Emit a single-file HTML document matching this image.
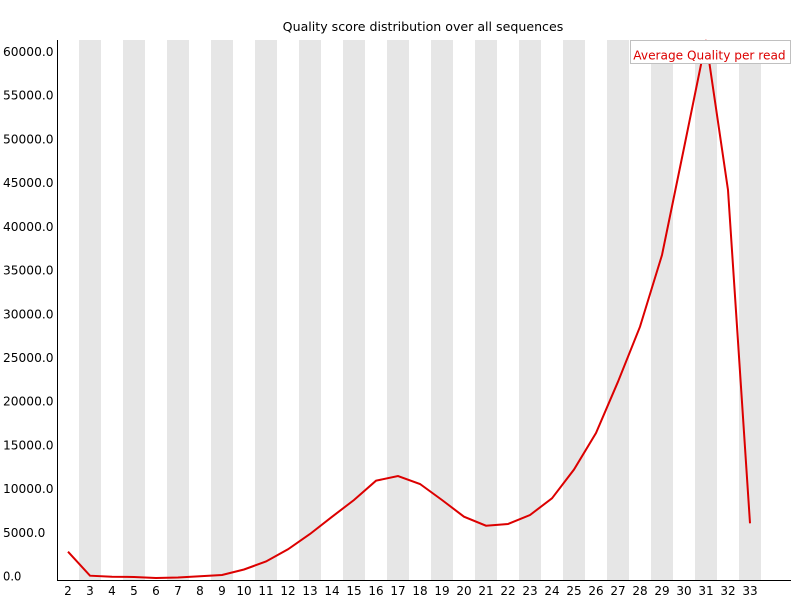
<!DOCTYPE html>
<html>
<head>
<meta charset="utf-8">
<style>
html,body{margin:0;padding:0;background:#fff;}
svg{display:block;}
text{font-family:"DejaVu Sans","Liberation Sans",sans-serif;font-size:12px;}
</style>
</head>
<body>
<svg width="800" height="600" viewBox="0 0 800 600" xmlns="http://www.w3.org/2000/svg">
<rect x="0" y="0" width="800" height="600" fill="#fff"/>
<!-- bands -->
<g fill="#e6e6e6">
<rect x="79" y="40" width="22" height="540"/>
<rect x="123" y="40" width="22" height="540"/>
<rect x="167" y="40" width="22" height="540"/>
<rect x="211" y="40" width="22" height="540"/>
<rect x="255" y="40" width="22" height="540"/>
<rect x="299" y="40" width="22" height="540"/>
<rect x="343" y="40" width="22" height="540"/>
<rect x="387" y="40" width="22" height="540"/>
<rect x="431" y="40" width="22" height="540"/>
<rect x="475" y="40" width="22" height="540"/>
<rect x="519" y="40" width="22" height="540"/>
<rect x="563" y="40" width="22" height="540"/>
<rect x="607" y="40" width="22" height="540"/>
<rect x="651" y="40" width="22" height="540"/>
<rect x="695" y="40" width="22" height="540"/>
<rect x="739" y="40" width="22" height="540"/>
</g>
<!-- title -->
<text x="282.7" y="31" textLength="280.6" lengthAdjust="spacingAndGlyphs" fill="#000">Quality score distribution over all sequences</text>
<!-- y labels -->
<g fill="#000">
<text x="3" y="56.0" textLength="50.5" lengthAdjust="spacingAndGlyphs">60000.0</text>
<text x="3" y="99.7" textLength="50.5" lengthAdjust="spacingAndGlyphs">55000.0</text>
<text x="3" y="143.4" textLength="50.5" lengthAdjust="spacingAndGlyphs">50000.0</text>
<text x="3" y="187.2" textLength="50.5" lengthAdjust="spacingAndGlyphs">45000.0</text>
<text x="3" y="230.9" textLength="50.5" lengthAdjust="spacingAndGlyphs">40000.0</text>
<text x="3" y="274.6" textLength="50.5" lengthAdjust="spacingAndGlyphs">35000.0</text>
<text x="3" y="318.3" textLength="50.5" lengthAdjust="spacingAndGlyphs">30000.0</text>
<text x="3" y="362.0" textLength="50.5" lengthAdjust="spacingAndGlyphs">25000.0</text>
<text x="3" y="405.7" textLength="50.5" lengthAdjust="spacingAndGlyphs">20000.0</text>
<text x="3" y="449.4" textLength="50.5" lengthAdjust="spacingAndGlyphs">15000.0</text>
<text x="3" y="493.2" textLength="50.5" lengthAdjust="spacingAndGlyphs">10000.0</text>
<text x="3" y="536.9" textLength="42.3" lengthAdjust="spacingAndGlyphs">5000.0</text>
<text x="3" y="580.6" textLength="18.3" lengthAdjust="spacingAndGlyphs">0.0</text>
</g>
<!-- x labels -->
<g fill="#000" text-anchor="middle">
<text x="68" y="595">2</text>
<text x="90" y="595">3</text>
<text x="112" y="595">4</text>
<text x="134" y="595">5</text>
<text x="156" y="595">6</text>
<text x="178" y="595">7</text>
<text x="200" y="595">8</text>
<text x="222" y="595">9</text>
<text x="244" y="595">10</text>
<text x="266" y="595">11</text>
<text x="288" y="595">12</text>
<text x="310" y="595">13</text>
<text x="332" y="595">14</text>
<text x="354" y="595">15</text>
<text x="376" y="595">16</text>
<text x="398" y="595">17</text>
<text x="420" y="595">18</text>
<text x="442" y="595">19</text>
<text x="464" y="595">20</text>
<text x="486" y="595">21</text>
<text x="508" y="595">22</text>
<text x="530" y="595">23</text>
<text x="552" y="595">24</text>
<text x="574" y="595">25</text>
<text x="596" y="595">26</text>
<text x="618" y="595">27</text>
<text x="640" y="595">28</text>
<text x="662" y="595">29</text>
<text x="684" y="595">30</text>
<text x="706" y="595">31</text>
<text x="728" y="595">32</text>
<text x="750" y="595">33</text>
</g>
<!-- axes -->
<line x1="57.5" y1="40" x2="57.5" y2="580.5" stroke="#000" stroke-width="1"/>
<line x1="57" y1="580.5" x2="791" y2="580.5" stroke="#000" stroke-width="1"/>
<!-- series -->
<polyline fill="none" stroke="#dc0000" stroke-width="2" stroke-linejoin="miter" points="68,551.7 90,575.7 112,576.7 134,577 156,578 178,577.5 200,576.3 222,575 244,569.5 266,561.5 288,549.3 310,534 332,516.8 354,500 376,480.7 398,476 420,484 442,500 464,516.7 486,525.7 508,524 530,515 552,498.3 574,469.5 596,433 618,381.7 640,326.7 662,255 684,148 706,40 728,190 750,523.3"/>
<!-- legend -->
<rect x="630.5" y="40.5" width="160" height="23" fill="#fff" stroke="#c0c0c0" stroke-width="1"/>
<text x="633.3" y="59.3" textLength="152.3" lengthAdjust="spacingAndGlyphs" fill="#dc0000">Average Quality per read</text>
</svg>
</body>
</html>
